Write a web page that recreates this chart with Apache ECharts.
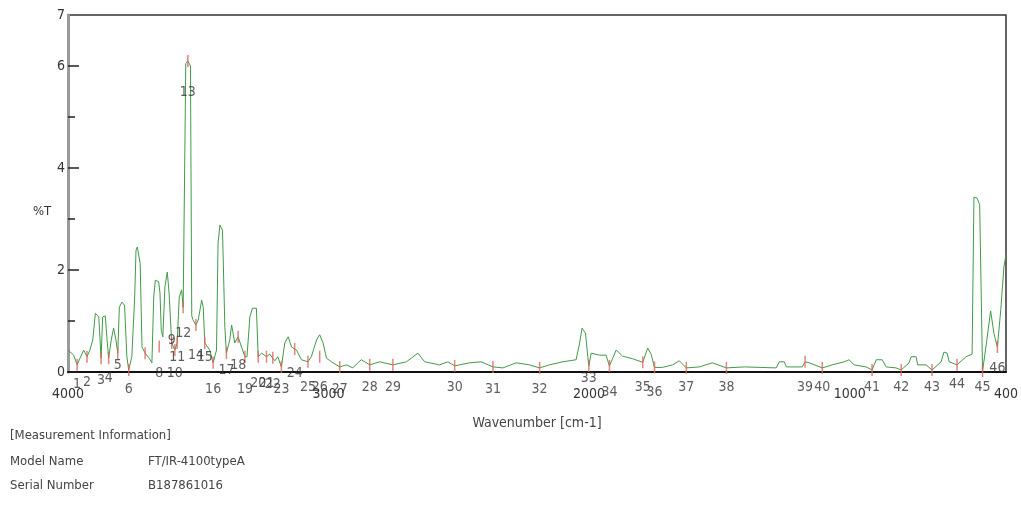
<!DOCTYPE html>
<html>
<head>
<meta charset="utf-8">
<script src="https://cdn.jsdelivr.net/npm/echarts@6/dist/echarts.min.js"></script>
<style>
html,body{margin:0;padding:0;background:#fff;}
#c{width:1021px;height:517px;}
</style>
</head>
<body>
<div id="c"></div>
<script>
// Spectrum trace (wavenumber cm-1, %T)
const wavenumbers = [4000,3978,3965,3954,3940,3927,3916,3905,3895,3882,3877,3873,3867,3857,3850,3844,3834,3825,3816,3809,3803,3793,3783,3774,3767,3755,3744,3739,3734,3723,3716,3704,3688,3678,3671,3665,3652,3647,3642,3636,3628,3619,3612,3602,3590,3581,3573,3564,3558,3553,3548,3540,3530,3525,3520,3509,3500,3487,3481,3475,3456,3443,3430,3424,3417,3407,3398,3392,3379,3372,3360,3347,3334,3321,3313,3302,3292,3277,3270,3257,3238,3226,3206,3195,3181,3168,3155,3142,3123,3104,3079,3066,3046,3034,3021,3008,2983,2957,2931,2907,2888,2874,2842,2804,2753,2701,2657,2631,2574,2542,2516,2459,2414,2369,2331,2280,2229,2190,2152,2101,2050,2037,2027,2014,2005,2001,1992,1960,1935,1922,1896,1871,1833,1794,1775,1762,1749,1719,1679,1654,1627,1577,1527,1473,1404,1282,1270,1251,1243,1182,1171,1155,1105,1067,1021,1002,983,937,914,898,875,860,822,802,772,764,745,739,707,684,649,638,626,618,588,553,530,523,511,501,490,477,459,446,433,420,408,400];
const transmittance = [0.43,0.33,0.14,0.27,0.43,0.30,0.43,0.63,1.15,1.08,0.63,0.27,1.08,1.10,0.63,0.27,0.63,0.86,0.63,0.37,1.27,1.37,1.31,0.30,0.04,0.30,1.47,2.39,2.45,2.13,0.49,0.37,0.27,0.18,1.47,1.80,1.77,1.55,0.82,0.69,1.67,1.96,1.55,0.57,0.43,0.57,1.47,1.61,1.27,1.30,6.05,6.10,6.00,1.10,1.02,0.92,1.02,1.41,1.27,0.57,0.43,0.18,0.43,2.53,2.88,2.78,0.88,0.37,0.63,0.92,0.57,0.69,0.49,0.30,0.30,1.08,1.25,1.25,0.30,0.37,0.30,0.35,0.22,0.30,0.10,0.57,0.69,0.49,0.43,0.24,0.20,0.30,0.63,0.73,0.57,0.27,0.18,0.10,0.14,0.08,0.18,0.24,0.14,0.20,0.14,0.20,0.37,0.20,0.14,0.20,0.12,0.18,0.20,0.10,0.08,0.18,0.14,0.08,0.14,0.20,0.24,0.55,0.86,0.76,0.30,0.12,0.37,0.33,0.33,0.12,0.43,0.31,0.26,0.19,0.47,0.35,0.09,0.09,0.14,0.22,0.08,0.10,0.18,0.08,0.10,0.08,0.20,0.20,0.10,0.10,0.20,0.18,0.08,0.14,0.20,0.24,0.14,0.10,0.04,0.24,0.24,0.10,0.08,0.04,0.18,0.30,0.30,0.14,0.14,0.04,0.20,0.39,0.37,0.20,0.14,0.30,0.35,3.43,3.41,3.28,0.02,0.49,1.20,0.75,0.49,1.22,2.06,2.30];

// Peak picks
const peakNumbers = ['1','2','3','4','5','6','','8','9','10','11','12','13','14','15','16','17','18','19','20','21','22','23','24','25','26','27','28','29','30','31','32','33','34','35','36','37','38','39','40','41','42','43','44','45','46'];
const peakWavenumbers = [3965,3927,3873,3844,3809,3767,3704,3650,3602,3590,3581,3558,3540,3509,3475,3443,3392,3347,3321,3270,3238,3214,3181,3130,3079,3034,2957,2842,2753,2516,2369,2190,2001,1922,1794,1749,1627,1473,1171,1105,914,802,684,588,490,433];
const peakValues = [0.14,0.30,0.27,0.27,0.37,0.04,0.37,0.50,0.57,0.43,0.57,1.27,6.10,0.92,0.57,0.18,0.37,0.69,0.30,0.30,0.30,0.28,0.10,0.45,0.20,0.30,0.10,0.14,0.14,0.12,0.10,0.08,0.12,0.12,0.19,0.09,0.08,0.08,0.20,0.08,0.04,0.04,0.04,0.14,0.02,0.49];
const peakLabelLevels = [-0.25,-0.2,-0.16,-0.12,0.14,-0.35,-0.3,-0.02,0.63,-0.02,0.29,0.76,5.49,0.33,0.29,-0.35,0.04,0.14,-0.35,-0.22,-0.22,-0.25,-0.35,-0.02,-0.31,-0.31,-0.35,-0.31,-0.31,-0.31,-0.35,-0.35,-0.12,-0.39,-0.31,-0.39,-0.31,-0.31,-0.31,-0.31,-0.31,-0.31,-0.31,-0.25,-0.31,0.08];

// Axis tick labels
const xTickLabels = [4000,3000,2000,1000,400];
const yTickLabels = [0,2,4,6,7];
const yMajorTicks = [0,2,4,6];
const yMinorTicks = [1,3,5];

const FONT = '"DejaVu Sans Condensed","Liberation Sans Narrow","Arial Narrow","Liberation Sans",sans-serif';

const spectrum = wavenumbers.map((w,i)=>[w, transmittance[i]]);
const markers = peakWavenumbers.map((w,i)=>[w, peakValues[i]]);
const labels = peakWavenumbers.map((w,i)=>({value:[w, peakLabelLevels[i]], name:peakNumbers[i]}));

const chart = echarts.init(document.getElementById('c'), null, {renderer:'canvas'});
chart.setOption({
  animation:false,
  backgroundColor:'#fff',
  grid:{left:68,right:13,top:15,bottom:145,show:true,borderColor:'#333',borderWidth:1.5},
  xAxis:{
    type:'value', inverse:true, min:400, max:4000,
    name:'Wavenumber [cm-1]', nameLocation:'middle', nameGap:44,
    nameTextStyle:{fontFamily:FONT,fontSize:14,color:'#444'},
    axisLine:{show:true,lineStyle:{color:'#111',width:2}},
    axisTick:{show:false},
    splitLine:{show:false},
    axisLabel:{customValues:xTickLabels,margin:15,fontFamily:FONT,fontSize:14,color:'#333',
      showMinLabel:true,showMaxLabel:true,formatter:v=>String(v)}
  },
  yAxis:[{
    type:'value', min:0, max:7,
    axisLine:{show:true,lineStyle:{color:'#9a9a9a',width:3}},
    axisTick:{show:true,inside:true,length:11,customValues:yMajorTicks,lineStyle:{color:'#222',width:1.5}},
    axisLabel:{customValues:yTickLabels,margin:3,fontFamily:FONT,fontSize:14,color:'#333',formatter:v=>String(v)},
    splitLine:{show:false}
  },{
    type:'value', min:0, max:7, position:'left', offset:0,
    axisLine:{show:false},
    axisTick:{show:true,inside:true,length:7,customValues:yMinorTicks,lineStyle:{color:'#222',width:1.5}},
    axisLabel:{show:false},
    splitLine:{show:false}
  }],
  series:[{
    type:'line', data:spectrum, showSymbol:false, symbol:'none',
    lineStyle:{color:'#3f9c46',width:1}, z:3
  },{
    type:'scatter', data:markers, symbol:'rect', symbolSize:[1.5,12],
    itemStyle:{color:'#e0645c'}, z:4, silent:true
  },{
    type:'scatter', data:labels, clip:false, symbol:'circle', symbolSize:1,
    itemStyle:{color:'rgba(0,0,0,0)'}, z:5, silent:true,
    label:{show:true,position:'inside',formatter:'{b}',
      fontFamily:FONT,fontSize:14,color:'#333'},
    labelLayout:{hideOverlap:false}
  }],
  graphic:[
    {type:'text',left:33,top:205,style:{text:'%T',font:'13px '+FONT,fill:'#333'}},
    {type:'text',left:10,top:429,style:{text:'[Measurement Information]',font:'13px '+FONT,fill:'#444'}},
    {type:'text',left:10,top:455,style:{text:'Model Name',font:'13px '+FONT,fill:'#444'}},
    {type:'text',left:148,top:455,style:{text:'FT/IR-4100typeA',font:'13px '+FONT,fill:'#444'}},
    {type:'text',left:10,top:479,style:{text:'Serial Number',font:'13px '+FONT,fill:'#444'}},
    {type:'text',left:148,top:479,style:{text:'B187861016',font:'13px '+FONT,fill:'#444'}}
  ]
});
</script>
</body>
</html>
